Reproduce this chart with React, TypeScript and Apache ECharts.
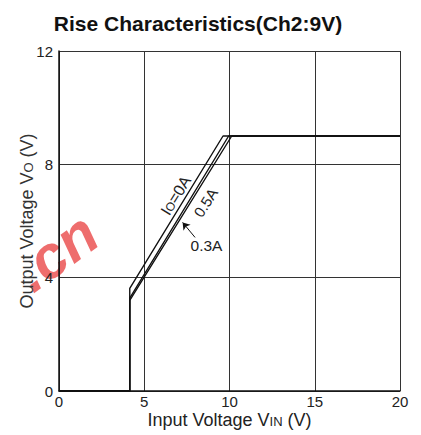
import React, { useEffect, useRef } from "react";
import * as echarts from "echarts";

const xTicks = [0, 5, 10, 15, 20];
const yTicks = [0, 4, 8, 12];
const seriesNames = ["Io=0A", "0.3A", "0.5A"];
const curve0A: [number, number][] = [[0, 0], [4.15, 0], [4.15, 3.62], [9.62, 9.0], [20, 9.0]];
const curve03A: [number, number][] = [[0, 0], [4.15, 0], [4.15, 3.28], [9.95, 9.0], [20, 9.0]];
const curve05A: [number, number][] = [[0, 0], [4.15, 0], [4.15, 3.2], [10.13, 9.0], [20, 9.0]];
const labelIo: [number, number] = [6.85, 6.9];
const label05: [number, number] = [8.6, 6.65];
const label03: [number, number] = [8.65, 5.12];
const arrowFrom: [number, number] = [7.98, 5.42];
const arrowTo: [number, number] = [7.25, 5.95];

const FONT = "'Liberation Sans', Arial, sans-serif";

export default function App() {
  const ref = useRef<HTMLDivElement>(null);
  useEffect(() => {
    if (!ref.current) return;
    const chart = echarts.init(ref.current, undefined, { renderer: "svg" });
    const lineStyle = { color: "#111", width: 1.4 };
    chart.setOption({
      animation: false,
      backgroundColor: "#fff",
      title: {
        text: "Rise Characteristics(Ch2:9V)",
        left: 193,
        top: 8,
        textAlign: "center",
        textStyle: { fontFamily: FONT, fontWeight: "bold", fontSize: 21, color: "#111" },
      },
      graphic: [
        {
          type: "text",
          x: 56,
          y: 252,
          rotation: 0.63,
          z: -10,
          style: {
            text: ".cn",
            font: "italic bold 60px " + FONT,
            fill: "rgba(232,60,60,0.75)",
            align: "center",
            verticalAlign: "middle",
          },
        },
      ],
      grid: { left: 59, right: 21, top: 51, bottom: 44, show: false },
      xAxis: {
        type: "value",
        min: xTicks[0],
        max: xTicks[xTicks.length - 1],
        interval: 5,
        name: "Input Voltage V{s|IN} (V)",
        nameLocation: "middle",
        nameGap: 20,
        nameMoveOverlap: false,
        nameTextStyle: {
          fontFamily: FONT,
          fontSize: 18,
          color: "#222",
          rich: { s: { fontFamily: FONT, fontSize: 13, color: "#222", padding: [3, 0, 0, 0] } },
        },
        axisLine: { show: true, lineStyle: { color: "#111", width: 1.5 } },
        axisTick: { show: false },
        axisLabel: { fontFamily: FONT, fontSize: 15, color: "#222", margin: 3 },
        splitLine: { show: true, lineStyle: { color: "#333", width: 1 } },
      },
      yAxis: {
        type: "value",
        min: yTicks[0],
        max: yTicks[yTicks.length - 1],
        interval: 4,
        name: "Output Voltage V{s|O} (V)",
        nameLocation: "middle",
        nameGap: 23,
        nameMoveOverlap: false,
        nameTextStyle: {
          fontFamily: FONT,
          fontSize: 18,
          color: "#333",
          rich: { s: { fontFamily: FONT, fontSize: 13, color: "#333", padding: [3, 0, 0, 0] } },
        },
        axisLine: { show: true, lineStyle: { color: "#111", width: 1.5 } },
        axisTick: { show: false },
        axisLabel: { fontFamily: FONT, fontSize: 15, color: "#222", margin: 6 },
        splitLine: { show: true, lineStyle: { color: "#333", width: 1 } },
      },
      series: [
        {
          name: seriesNames[0],
          type: "line",
          data: curve0A,
          symbol: "none",
          lineStyle,
          z: 3,
          markPoint: {
            symbol: "circle",
            symbolSize: 0,
            data: [
              {
                coord: labelIo,
                label: {
                  show: true,
                  position: "inside",
                  rotate: 58,
                  formatter: "I{s|O}=0A",
                  fontFamily: FONT,
                  fontSize: 16,
                  color: "#222",
                  rich: { s: { fontFamily: FONT, fontSize: 12, color: "#222", padding: [3, 0, 0, 0] } },
                },
              },
            ],
          },
        },
        {
          name: seriesNames[1],
          type: "line",
          data: curve03A,
          symbol: "none",
          lineStyle,
          z: 3,
          markPoint: {
            symbol: "circle",
            symbolSize: 0,
            data: [
              {
                coord: label03,
                label: { show: true, position: "inside", formatter: "0.3A", fontFamily: FONT, fontSize: 15.5, color: "#222" },
              },
            ],
          },
          markLine: {
            silent: true,
            symbol: ["none", "arrow"],
            symbolSize: 7,
            label: { show: false },
            lineStyle: { color: "#111", width: 1, type: "solid" },
            data: [[{ coord: arrowFrom }, { coord: arrowTo }]],
          },
        },
        {
          name: seriesNames[2],
          type: "line",
          data: curve05A,
          symbol: "none",
          lineStyle,
          z: 3,
          markPoint: {
            symbol: "circle",
            symbolSize: 0,
            data: [
              {
                coord: label05,
                label: { show: true, position: "inside", rotate: 58, formatter: "0.5A", fontFamily: FONT, fontSize: 15, color: "#222" },
              },
            ],
          },
        },
      ],
    });
    return () => chart.dispose();
  }, []);
  return <div ref={ref} style={{ position: "fixed", left: 0, top: 0, width: 421, height: 435 }} />;
}
